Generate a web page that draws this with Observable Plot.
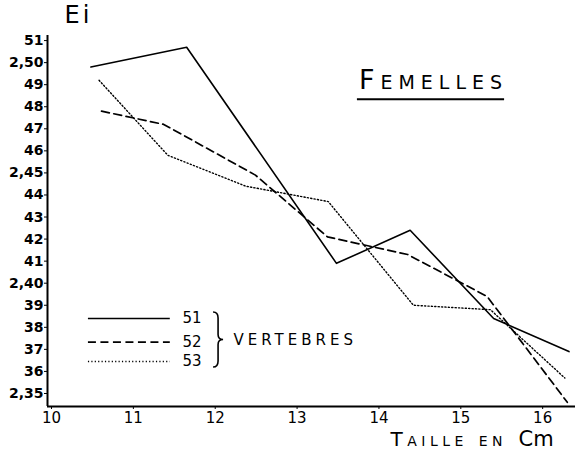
<!DOCTYPE html>
<html><head><meta charset="utf-8">
<script src="https://cdn.jsdelivr.net/npm/d3@7"></script>
<script src="https://cdn.jsdelivr.net/npm/@observablehq/plot@0.6"></script>
<style>
html,body{margin:0;padding:0;background:#fff;}
</style></head><body><div id="chart"></div>
<script>
// Series: number of vertebrae (51, 52, 53)
const seriesNames = ["51", "52", "53"];
// Taille (cm) and Ei values
const taille51 = [10.53, 11.70, 13.53, 14.43, 15.45, 16.37];
const ei51     = [2.498, 2.507, 2.409, 2.424, 2.384, 2.369];
const taille52 = [10.66, 11.42, 12.54, 13.42, 14.40, 15.37, 16.35];
const ei52     = [2.478, 2.472, 2.449, 2.421, 2.413, 2.394, 2.346];
const taille53 = [10.63, 11.47, 12.42, 13.43, 14.47, 15.41, 16.32];
const ei53     = [2.492, 2.458, 2.444, 2.437, 2.390, 2.388, 2.357];

// Tick values
const xTickValues = [10, 11, 12, 13, 14, 15, 16];
const yTickValues = d3.range(235, 252).map(d => d / 100);

// Text
const yTitle = "Ei";
const panelTitle = "Femelles";
const xTitle = "Taille en";
const xUnit = "Cm";
const legendWord = "VERTEBRES";

const tailles = {"51": taille51, "52": taille52, "53": taille53};
const eis = {"51": ei51, "52": ei52, "53": ei53};
const rows = seriesNames.flatMap(s => tailles[s].map((t, i) => ({serie: s, taille: t, ei: eis[s][i]})));

const lineStyle = {
  "51": {strokeWidth: 1.6},
  "52": {strokeWidth: 1.7, strokeDasharray: "8,4.5"},
  "53": {strokeWidth: 1.4, strokeDasharray: "1.2,2.2"}
};

const fmtY = v => {
  const c = Math.round(v * 100);
  return c % 5 === 0 ? v.toFixed(2).replace(".", ",") : String(c % 100);
};

// legend layout (data units)
const legX1 = 10.5, legX2 = 11.5, legLabelX = 11.65;
const legRowY = [2.384, 2.3733, 2.3645];
const legend = seriesNames.map((s, i) => ({serie: s, y: legRowY[i]}));

const xDomain = [10, 16.45];
const yDomain = [2.3441, 2.5123];

const txt = {fill: "black", frameAnchor: "top-left", lineAnchor: "middle"};

const chart = Plot.plot({
  width: 575,
  height: 450,
  marginLeft: 47,
  marginRight: 0,
  marginTop: 35,
  marginBottom: 44,
  x: {domain: xDomain},
  y: {domain: yDomain},
  style: {background: "white", color: "black", fontFamily: "DejaVu Sans"},
  marks: [
    Plot.axisY({ticks: yTickValues, tickFormat: fmtY, tickSize: 3, tickPadding: 1, fontSize: 14, fontWeight: "bold", label: null}),
    Plot.axisX({ticks: xTickValues, tickFormat: d => String(d), tickSize: 3, tickPadding: 3, fontSize: 15, dx: 4, label: null}),
    Plot.ruleX([xDomain[0]], {strokeWidth: 2}),
    Plot.ruleY([yDomain[0]], {strokeWidth: 2}),
    ...seriesNames.map(s => Plot.line(rows.filter(d => d.serie === s), {x: "taille", y: "ei", stroke: "black", ...lineStyle[s]})),
    // legend
    ...legend.map(d => Plot.ruleY([d], {y: "y", x1: legX1, x2: legX2, stroke: "black", ...lineStyle[d.serie]})),
    Plot.text(legend, {x: legLabelX, y: "y", text: "serie", textAnchor: "start", fontSize: 15, fill: "black"}),
    // titles
    Plot.text([yTitle], {...txt, dx: 31, dy: -20, fontSize: 24, textAnchor: "middle"}),
    Plot.text([panelTitle], {...txt, dx: 386, dy: 45, fontSize: 27, fontVariant: "small-caps", textAnchor: "middle"}),
    Plot.text([xTitle], {...txt, dx: 343, dy: 404, fontSize: 20, fontVariant: "small-caps", textAnchor: "start"}),
    Plot.text([xUnit], {...txt, dx: 471, dy: 404, fontSize: 21, textAnchor: "start"}),
    Plot.text([legendWord], {...txt, dx: 186, dy: 305, fontSize: 15, textAnchor: "start"})
  ]
});

document.getElementById("chart").appendChild(chart);

const svg = d3.select(chart);
svg.selectAll("text").filter(function() { return this.textContent === yTitle; }).style("letter-spacing", "3px");
svg.selectAll("text").filter(function() { return this.textContent === panelTitle; }).style("letter-spacing", "6px")
  .each(function() {
    const b = this.getBBox();
    d3.select(this.parentNode).append("line")
      .attr("transform", this.getAttribute("transform"))
      .attr("x1", b.x - 2).attr("x2", b.x + b.width - 4)
      .attr("y1", b.y + b.height + 4).attr("y2", b.y + b.height + 4)
      .attr("stroke", "black").attr("stroke-width", 2);
  });
svg.selectAll("text").filter(function() { return this.textContent === legendWord; }).style("letter-spacing", "4px");
svg.selectAll("text").filter(function() { return this.textContent === xTitle; }).style("letter-spacing", "4.5px");

// brace next to legend labels
const sx = chart.scale("x"), sy = chart.scale("y");
const bx = sx.apply(legLabelX) + 36, bTop = sy.apply(legRowY[0]) - 6, bBot = sy.apply(legRowY[2]) + 6, bMid = (bTop + bBot) / 2;
svg.append("path")
  .attr("d", `M${bx - 5},${bTop} Q${bx},${bTop} ${bx},${bTop + 6} L${bx},${bMid - 5} Q${bx},${bMid} ${bx + 5},${bMid} Q${bx},${bMid} ${bx},${bMid + 5} L${bx},${bBot - 6} Q${bx},${bBot} ${bx - 5},${bBot}`)
  .attr("fill", "none").attr("stroke", "black").attr("stroke-width", 1.6);
</script></body></html>
